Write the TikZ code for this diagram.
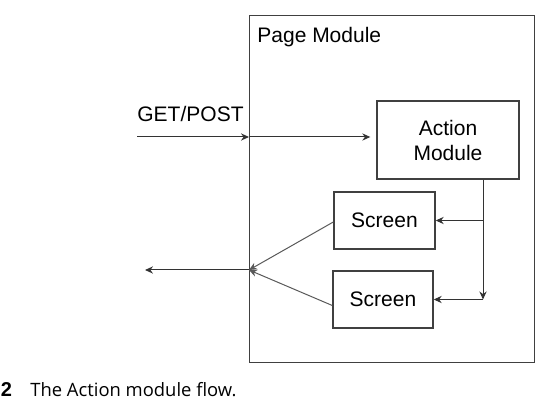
\documentclass[tikz,border=0pt]{standalone}
\usepackage{fontspec}
\setmainfont{Liberation Sans}
\newfontfamily\captionfont{Open Sans}
\usetikzlibrary{arrows.meta}

\tikzset{
  modulo/.style={draw=black!75, line width=0.7pt, inner sep=0pt, align=center,
    font=\fontsize{10.5}{12.5}\selectfont},
  etichetta/.style={inner sep=0pt, font=\fontsize{10.5}{12.5}\selectfont},
  flusso/.style={draw=black!80, line width=0.5pt, -{Stealth[length=4pt,width=3.6pt]}},
  ritorno/.style={flusso, draw=black!65},
  didascalia/.style={inner sep=0pt, font=\captionfont\fontsize{9.2}{11}\selectfont},
}

\begin{document}
\begin{tikzpicture}[x=0.5pt, y=-0.5pt]
    \useasboundingbox (0,0) rectangle (558,411);

    % modulo esterno
    \node[modulo, anchor=north west, minimum width=142.5pt, minimum height=173.5pt] (page) at (249,15) {};
    \node[etichetta, anchor=base west] (pagelabel) at (257,43) {Page Module};

    % moduli interni
    \node[modulo, minimum width=71pt, minimum height=39pt] (action) at (448,140) {Action\\Module};
    \node[modulo, minimum width=50.5pt, minimum height=28.5pt] (screenA) at (384.5,220.5) {Screen};
    \node[modulo, minimum width=50pt, minimum height=28.5pt] (screenB) at (383,299.5) {Screen};

    % richiesta in ingresso
    \node[etichetta, anchor=base west] (method) at (137,122) {GET/POST};
    \coordinate (in) at (137,137);
    \coordinate (entry) at (page.west |- in);
    \draw[flusso] (in) -- (entry);
    \draw[flusso, shorten >=3pt] (entry) -- (action.west |- entry);

    % smistamento verso gli schermi
    \coordinate (split) at ([xshift=17.5pt]action.south);
    \coordinate (turn) at (split |- screenB.east);
    \draw[flusso] (split) -- (turn);
    \draw[flusso] (split |- screenA.east) -- (screenA.east);
    \draw[flusso] (turn) -- (screenB.east);

    % risposta in uscita
    \coordinate (exit) at (249,270);
    \coordinate (out) at (145,270);
    \draw[ritorno] ([yshift=-0.75pt]screenA.west) -- (exit);
    \draw[ritorno] ([yshift=-3pt]screenB.west) -- (exit);
    \draw[flusso] (exit) -- (out);

    % didascalia
    \node[didascalia, anchor=base west, font=\bfseries] (fignum) at (0.5,397) {2};
    \node[didascalia, anchor=base west] (caption) at (30,397) {The Action module flow.};
\end{tikzpicture}
\end{document}
